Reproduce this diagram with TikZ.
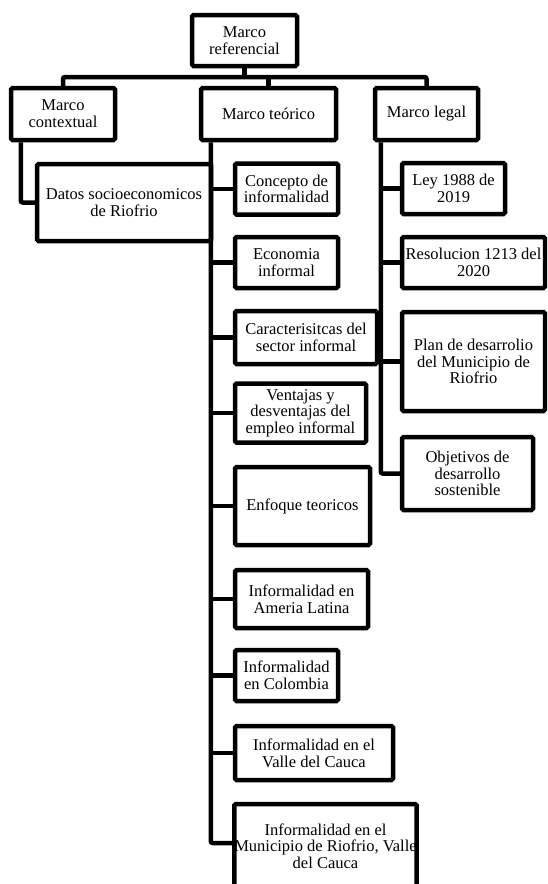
\documentclass[tikz,border=0pt]{standalone}
\usepackage{fontspec}
\setmainfont{Liberation Serif}
\begin{document}
\begin{tikzpicture}[x=1pt,y=-1pt,
  box/.style={draw, line width=4.5pt, rounded corners=1.5pt, align=center, inner sep=0pt,
    font=\fontsize{16.5}{16.7}\selectfont},
  conn/.style={draw, line width=4.5pt, rounded corners=2pt}]
\useasboundingbox (0,0) rectangle (547,884);
\clip (0,0) rectangle (547,884);
% top levels
\node[box, minimum width=105pt, minimum height=51pt] (ref) at (244.5,40.5) {Marco\\referencial};
\node[box, minimum width=104pt, minimum height=52pt] (ctx) at (63,114) {Marco\\contextual};
\node[box, minimum width=135pt, minimum height=52pt] (teo) at (268.5,114) {Marco teórico};
\node[box, minimum width=103pt, minimum height=52pt] (leg) at (426.5,114) {Marco legal};
% contextual
\node[box, minimum width=174pt, minimum height=77pt] (datos) at (124,202.5) {Datos socioeconomicos\\de Riofrio};
% teorico
\node[box, minimum width=103pt, minimum height=51pt] (c1) at (286.5,189) {Concepto de\\informalidad};
\node[box, minimum width=103pt, minimum height=51pt] (c2) at (286.5,262.5) {Economia\\informal};
\node[box, minimum width=142pt, minimum height=53pt] (c3) at (306,337.5) {Caracterisitcas del\\sector informal};
\node[box, minimum width=131pt, minimum height=59pt] (c4) at (300.5,413) {Ventajas y\\desventajas del\\empleo informal};
\node[box, minimum width=135pt, minimum height=78pt] (c5) at (302.5,506) {Enfoque teoricos};
\node[box, minimum width=133pt, minimum height=58pt] (c6) at (301.5,599) {Informalidad en\\Ameria Latina};
\node[box, minimum width=103pt, minimum height=51pt] (c7) at (286.5,675.5) {Informalidad\\en Colombia};
\node[box, minimum width=158pt, minimum height=54pt] (c8) at (314,753) {Informalidad en el\\Valle del Cauca};
\node[box, minimum width=181pt, minimum height=84pt] (c9) at (325.5,846) {Informalidad en el\\Municipio de Riofrio, Valle\\del Cauca};
% legal
\node[box, minimum width=103pt, minimum height=51pt] (l1) at (453.5,188.5) {Ley 1988 de\\2019};
\node[box, minimum width=143pt, minimum height=51pt] (l2) at (473.5,262.5) {Resolucion 1213 del\\2020};
\node[box, minimum width=143pt, minimum height=99pt] (l3) at (473.5,361.5) {Plan de desarrolio\\del Municipio de\\Riofrio};
\node[box, minimum width=131pt, minimum height=73pt] (l4) at (467.5,473.5) {Objetivos de\\desarrollo\\sostenible};
% connectors
\coordinate (bus) at (244.5,77);
\draw[conn] (ref.south) -- (bus);
\draw[conn] (ctx.north) |- (bus) -| (leg.north);
\draw[conn] (teo.north) -- (teo.north |- bus);
\draw[conn] ([xshift=12pt]ctx.south west) |- (datos.west);
\coordinate (tt) at ([xshift=12pt]teo.south west);
\draw[conn] (tt) |- ([yshift=3pt]c9.west);
\foreach \n in {c1,c2,c3,c4,c5,c6,c7,c8} {\draw[conn] (\n.west) -- (\n.west -| tt);}
\coordinate (lt) at ([xshift=8pt]leg.south west);
\draw[conn] (lt) |- (l4.west);
\foreach \n in {l1,l2,l3} {\draw[conn] (\n.west) -- (\n.west -| lt);}
\end{tikzpicture}
\end{document}
